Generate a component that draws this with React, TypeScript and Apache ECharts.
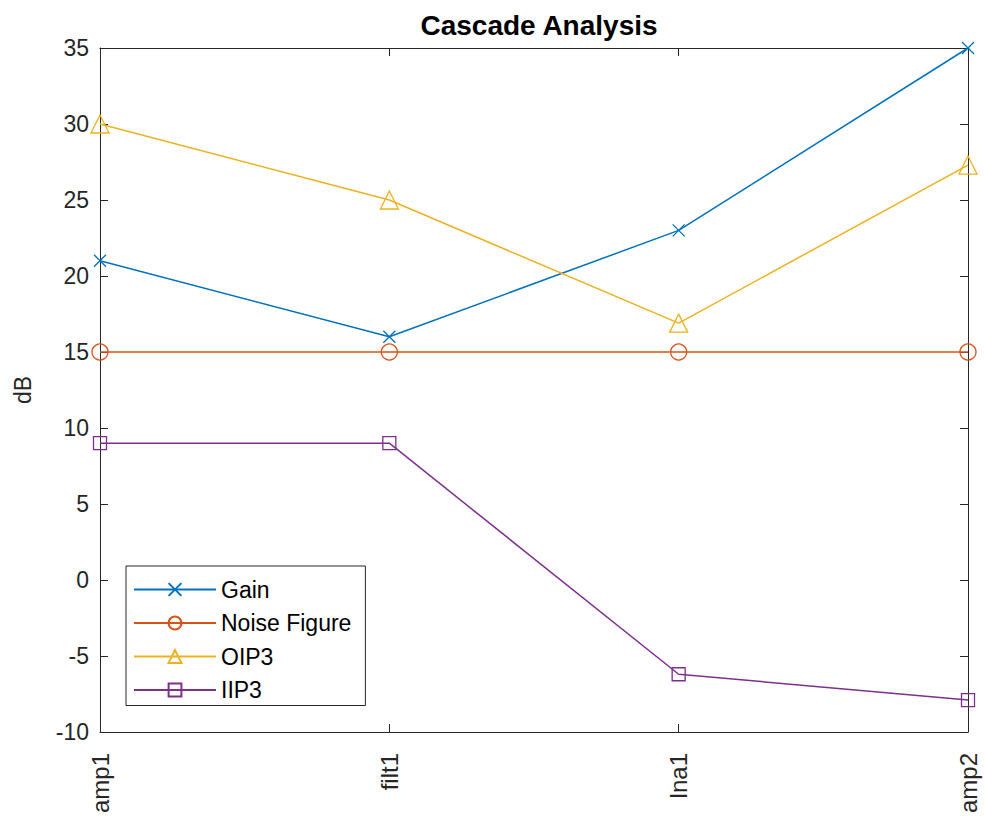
import React, { useEffect, useRef } from "react";
import * as echarts from "echarts";

const categories = ["amp1", "filt1", "lna1", "amp2"];
const gain = [21, 16, 23, 35];
const noiseFigure = [15, 15, 15, 15];
const oip3 = [30, 25, 16.9, 27.3];
const iip3 = [9, 9, -6.2, -7.9];
const yTicks = { min: -10, max: 35, interval: 5 };

const FONT = "Liberation Sans, Arial, Helvetica, sans-serif";
const AX = "#262626";

export default function App() {
  const ref = useRef<HTMLDivElement>(null);
  useEffect(() => {
    if (!ref.current) return;
    const chart = echarts.init(ref.current, undefined, { renderer: "svg" });
    const mk = (name: string, data: number[], color: string, symbol: string, size: number) => ({
      name,
      type: "line",
      data,
      xAxisIndex: 0,
      yAxisIndex: 0,
      symbol,
      symbolSize: size,
      showAllSymbol: true,
      lineStyle: { color, width: 1.5 },
      itemStyle: { color: "rgba(255,255,255,0)", borderColor: color, borderWidth: 1.3 },
      emphasis: { disabled: true },
    });
    const axisBase = {
      axisLine: { show: true, onZero: false, lineStyle: { color: AX, width: 1 } },
      axisTick: { show: true, inside: true, length: 8, lineStyle: { color: AX } },
      splitLine: { show: false },
    };
    chart.setOption({
      animation: false,
      backgroundColor: "#ffffff",
      textStyle: { fontFamily: FONT },
      title: {
        text: "Cascade Analysis",
        left: 534,
        textAlign: "center",
        top: 6,
        textStyle: { fontFamily: FONT, fontSize: 28, fontWeight: "bold", color: "#000" },
      },
      grid: { left: 100, right: 17, top: 48, bottom: 86, containLabel: false },
      legend: {
        orient: "vertical",
        left: 126,
        top: 566,
        width: 241,
        backgroundColor: "#ffffff",
        borderColor: AX,
        borderWidth: 1,
        borderRadius: 0,
        padding: [12, 14, 4, 7],
        itemGap: 10.5,
        itemWidth: 82,
        itemHeight: 16,
        textStyle: { fontFamily: FONT, fontSize: 23, color: "#000", lineHeight: 23 },
        data: ["Gain", "Noise Figure", "OIP3", "IIP3"],
      },
      xAxis: [
        {
          type: "category",
          data: categories,
          boundaryGap: false,
          ...axisBase,
          axisLabel: { rotate: 90, fontFamily: FONT, fontSize: 24, color: AX, margin: 21 },
        },
        {
          type: "category",
          data: categories,
          boundaryGap: false,
          position: "top",
          ...axisBase,
          axisLabel: { show: false },
        },
      ],
      yAxis: [
        {
          type: "value",
          min: yTicks.min,
          max: yTicks.max,
          interval: yTicks.interval,
          name: "dB",
          nameLocation: "middle",
          nameGap: 66,
          nameRotate: 90,
          nameTextStyle: { fontFamily: FONT, fontSize: 23, color: AX },
          ...axisBase,
          axisLabel: { fontFamily: FONT, fontSize: 23, color: AX, margin: 11 },
        },
        {
          type: "value",
          min: yTicks.min,
          max: yTicks.max,
          interval: yTicks.interval,
          position: "right",
          ...axisBase,
          axisLabel: { show: false },
        },
      ],
      series: [
        mk("Gain", gain, "#0072BD", "path://M0,0L10,10M10,0L0,10", 12),
        mk("Noise Figure", noiseFigure, "#D95319", "circle", 16),
        mk("OIP3", oip3, "#EDB120", "triangle", 18),
        mk("IIP3", iip3, "#7E2F8E", "rect", 13),
      ],
    });
    return () => chart.dispose();
  }, []);
  return <div ref={ref} style={{ width: 985, height: 818, position: "absolute", left: 0, top: 0 }} />;
}
